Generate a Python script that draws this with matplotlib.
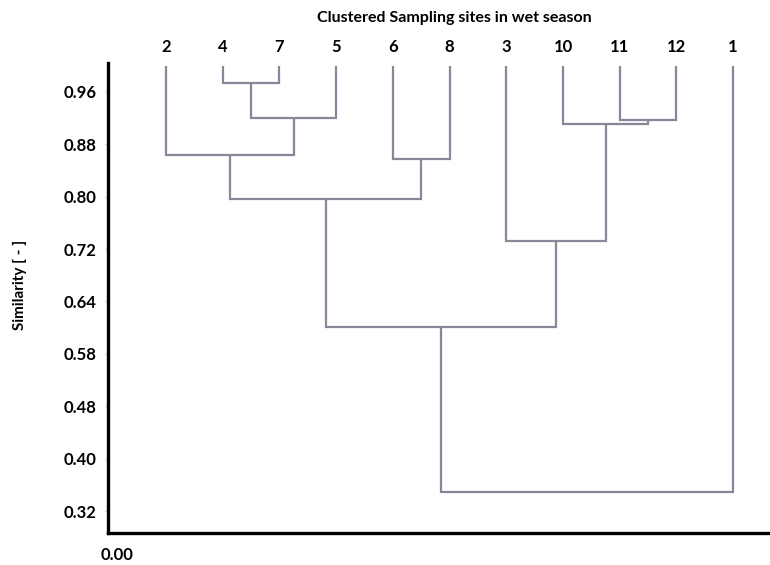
import matplotlib
matplotlib.use("Agg")
import matplotlib.pyplot as plt
import numpy as np

# ---- data ----
leaf_labels = ['2', '4', '7', '5', '6', '8', '3', '10', '11', '12', '1']
leaf_height = 1.0
# merges: cluster ids (leaves 0..10, new clusters numbered from 11 in order)
merge_left = [1, 11, 0, 4, 13, 8, 7, 6, 15, 19]
merge_right = [2, 3, 12, 5, 14, 9, 16, 17, 18, 10]
merge_height = [0.974, 0.920, 0.863, 0.857, 0.796, 0.917, 0.911, 0.733, 0.601, 0.349]

ytick_values = [0.96, 0.88, 0.80, 0.72, 0.64, 0.56, 0.48, 0.40, 0.32]
ytick_labels = ['0.96', '0.88', '0.80', '0.72', '0.64', '0.58', '0.48', '0.40', '0.32']

title = 'Clustered Sampling sites in wet season'
ylabel = 'Similarity [ - ]'

FONT = 'Lato'
LINE_COLOR = '#87879a'

fig = plt.figure(figsize=(7.7, 5.65), dpi=100)
ax = fig.add_axes([108 / 770, 1 - 533 / 565, 1 - 108 / 770, (533 - 63) / 565])

pos = {i: float(i) for i in range(len(leaf_labels))}
hgt = {i: leaf_height for i in range(len(leaf_labels))}
nid = len(leaf_labels)
for a, b, h in zip(merge_left, merge_right, merge_height):
    xa, xb = pos[a], pos[b]
    ax.plot([xa, xa, xb, xb], [hgt[a], h, h, hgt[b]], color=LINE_COLOR,
            lw=1.6, solid_joinstyle='miter', solid_capstyle='butt')
    pos[nid] = (xa + xb) / 2
    hgt[nid] = h
    nid += 1

ax.set_xlim(-1.023, 10.65)
ax.set_ylim(0.2866, 1.004)

for sp in ['top', 'right']:
    ax.spines[sp].set_visible(False)
for sp in ['left', 'bottom']:
    ax.spines[sp].set_linewidth(2.4)
    ax.spines[sp].set_color('black')

ax.set_yticks(ytick_values)
ax.set_yticklabels(ytick_labels, fontsize=12, fontweight='bold', family=FONT)
ax.tick_params(axis='y', length=2, width=0.8, color='#cccccc', pad=6)
ax.set_xticks([])

# leaf labels on top
for i, lab in enumerate(leaf_labels):
    ax.text(i, 1.029, lab, ha='center', va='center', fontsize=12,
            fontweight='bold', family=FONT, transform=ax.transData, clip_on=False)

fig.text(454 / 770, 1 - 18 / 565, title, ha='center', va='center',
         fontsize=11.5, fontweight='bold', family=FONT)
fig.text(20 / 770, 1 - 285 / 565, ylabel, ha='center', va='center',
         rotation=90, fontsize=11, fontweight='bold', family=FONT)
fig.text(117 / 770, 1 - 555 / 565, '0.00', ha='center', va='center',
         fontsize=12, fontweight='bold', family=FONT)

fig.savefig('out.png', dpi=100, facecolor='white')
